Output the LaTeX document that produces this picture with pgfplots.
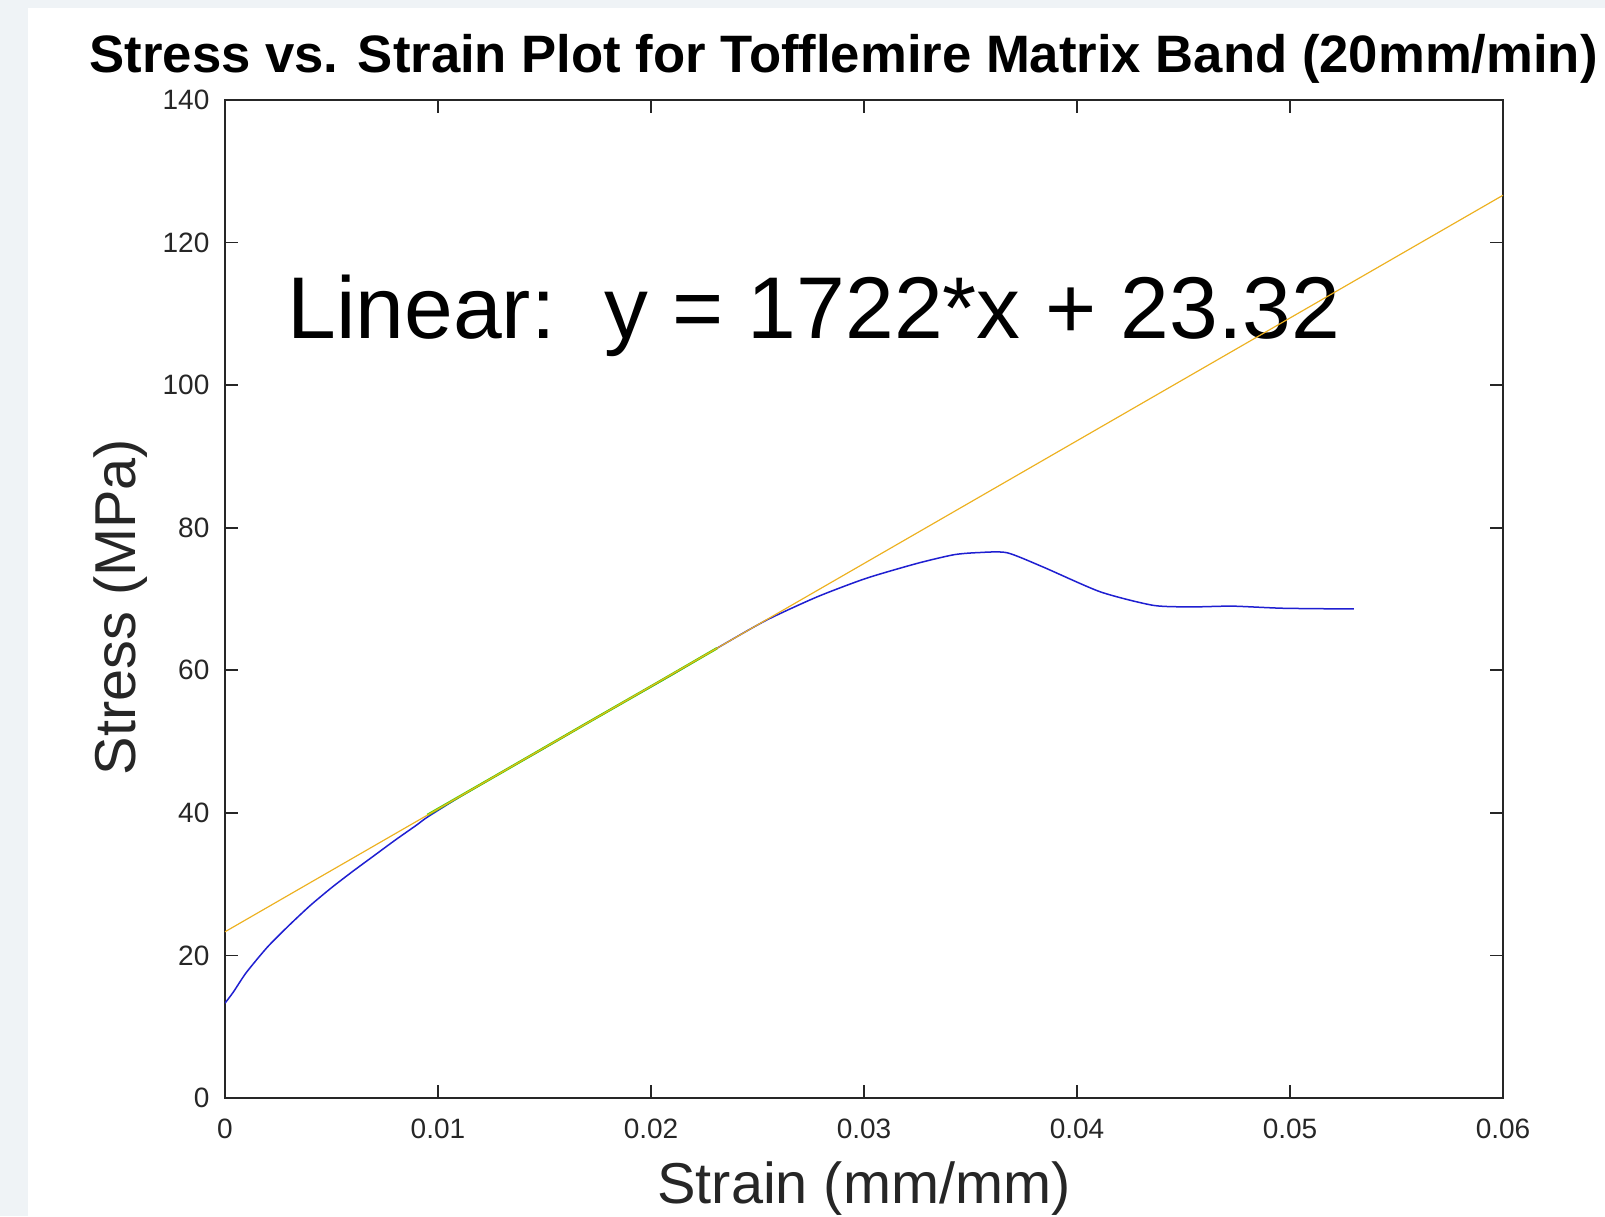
\documentclass[border=0pt]{standalone}
\usepackage{pgfplots}
\pgfplotsset{compat=1.18}
\usepackage{fontspec}
\setmainfont{Liberation Sans}

\definecolor{axgray}{RGB}{38,38,38}
\definecolor{bgstrip}{RGB}{239,243,246}
\definecolor{fitorange}{rgb}{0.929,0.694,0.125}
\definecolor{curveblue}{rgb}{0.12,0.12,0.82}
\definecolor{linegreen}{rgb}{0.30,0.85,0.0}

\begin{document}
\begin{tikzpicture}
% page frame: 1 px of the screenshot = 0.3pt, axis box corner at (0,0)
\useasboundingbox (-67.5pt,-35.4pt) rectangle (414pt,329.4pt);
\fill[white] (-67.5pt,-35.4pt) rectangle (414pt,329.4pt);
\fill[bgstrip] (-67.5pt,-35.4pt) rectangle (-59.1pt,329.4pt);
\fill[bgstrip] (-67.5pt,327pt) rectangle (414pt,329.4pt);

\begin{axis}[
  scale only axis,
  width=383.4pt, height=299.4pt,
  xmin=0, xmax=0.06,
  ymin=0, ymax=140,
  xtick={0,0.01,0.02,0.03,0.04,0.05,0.06},
  xticklabels={0,0.01,0.02,0.03,0.04,0.05,0.06},
  ytick={0,20,40,60,80,100,120,140},
  scaled x ticks=false,
  tick align=inside,
  xtick pos=both, ytick pos=both,
  xticklabel pos=lower, yticklabel pos=left,
  major tick length=3.9pt,
  axis line style={axgray, line width=0.5pt},
  every tick/.style={axgray, line width=0.5pt},
  /pgf/number format/assume math mode=true,
  tick label style={font=\fontsize{8.4}{10}\selectfont, text=axgray, inner sep=0pt},
  xticklabel style={anchor=north, yshift=-6pt},
  yticklabel style={anchor=east, xshift=-4.5pt},
  xlabel={Strain (mm/mm)},
  ylabel={Stress (MPa)},
  every axis x label/.style={at={(rel axis cs:0.5,0)}, yshift=-31.5pt, anchor=base,
    font=\fontsize{17.3}{20}\selectfont, text=axgray},
  every axis y label/.style={at={(rel axis cs:0,0.492)}, xshift=-31.2pt, rotate=90, anchor=center,
    font=\fontsize{17.3}{20}\selectfont, text=axgray},
  title={Stress vs. Strain Plot for Tofflemire Matrix Band (20mm/min)},
  every axis title/.style={at={(rel axis cs:0,1)}, anchor=base, xshift=185.6pt, yshift=8.4pt,
    font=\fontsize{15.8}{18}\selectfont\bfseries, inner sep=0pt},
]

\node[anchor=base west, inner sep=0pt, font=\fontsize{26.3}{30}\selectfont]
  at (axis cs:0.0029,106.6) {Linear:\ \ y = 1722*x + 23.32};

% measured curve
\addplot[curveblue, line width=0.45pt, smooth, tension=0.4] coordinates {
  (0,13.3) (0.0004,14.9) (0.001,17.6) (0.002,21.2) (0.003,24.2)
  (0.004,27.0) (0.005,29.5) (0.006,31.8) (0.007,34.0) (0.008,36.2)
  (0.009,38.3) (0.0095,39.4) (0.011,42.2)
  (0.013,45.7) (0.015,49.1) (0.017,52.6) (0.019,56.0) (0.021,59.4)
  (0.0231,63.1) (0.0254,67.0) (0.0278,70.3) (0.0301,72.9) (0.0325,75.0)
  (0.0342,76.2) (0.0353,76.5) (0.0367,76.5) (0.0384,74.5) (0.0411,71.0)
  (0.0436,69.1) (0.0455,68.9) (0.0473,69.0) (0.0497,68.7) (0.0530,68.6)
};

% linear region used for the fit
\addplot[linegreen, line width=0.75pt] coordinates {
  (0.0095,39.7) (0.013,45.7) (0.017,52.6) (0.0205,58.6) (0.0231,63.1)
};

% fitted line
\addplot[fitorange, line width=0.35pt] coordinates {
  (0,23.32) (0.06,126.64)
};
\end{axis}
\end{tikzpicture}
\end{document}
